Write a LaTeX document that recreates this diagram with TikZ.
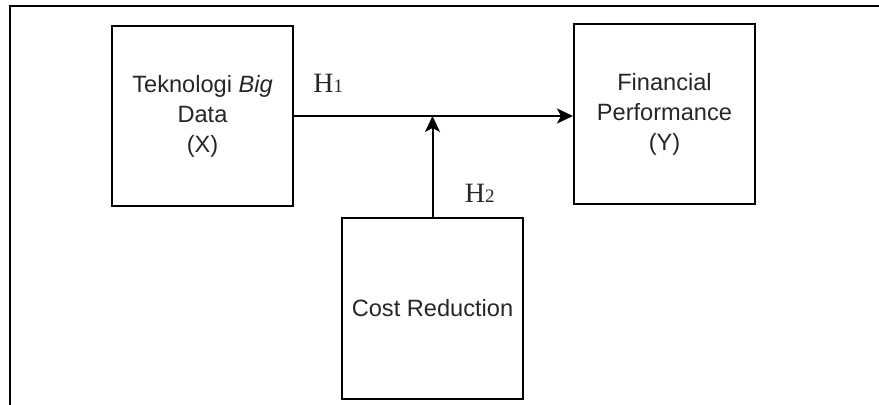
\documentclass[tikz,border=0pt]{standalone}
\usepackage{fontspec}
\setmainfont{Liberation Sans}
\newfontfamily\hfont{Liberation Serif}
\usetikzlibrary{positioning,arrows.meta,calc}
\tikzset{
  box/.style={draw=black, line width=1pt, minimum width=90.5pt, minimum height=90pt,
    align=center, text=black!85, font=\fontsize{11.8}{15}\selectfont},
  link/.style={line width=1pt, -{Stealth[length=8pt,width=7.5pt,inset=2pt]}},
  hyp/.style={inner sep=0pt, anchor=base west, text=black!85}
}
\newcommand{\hyplabel}[1]{{\hfont\fontsize{14}{14}\selectfont H}{\hfont\fontsize{9.5}{9.5}\selectfont #1}}

\begin{document}
\begin{tikzpicture}
    \useasboundingbox (0,0) rectangle (439.5pt,-202.5pt);
    % frame, open at right and bottom
    \draw[line width=1pt] (439.5pt,-3.25pt) -| (4.75pt,-202.5pt);

    \node[box] (X) at (101.25pt,-58pt) {Teknologi \textit{Big}\\Data\\(X)};
    \node[box, right=139.5pt of X, yshift=1pt] (Y) {Financial\\Performance\\(Y)};
    \node[box, below right=5pt and 23.5pt of X, minimum height=90.5pt] (Z) {Cost Reduction};
    \coordinate (m) at (Z.north |- X.east);

    \draw[link] (X.east) -- (X.east -| Y.west);
    \draw[link] (Z.north) -- (m);

    \node[hyp] (h1) at ([xshift=9.5pt,yshift=11.5pt]X.east) {\hyplabel{1}};
    \node[hyp] (h2) at ([xshift=16pt,yshift=7pt]Z.north) {\hyplabel{2}};
\end{tikzpicture}
\end{document}
